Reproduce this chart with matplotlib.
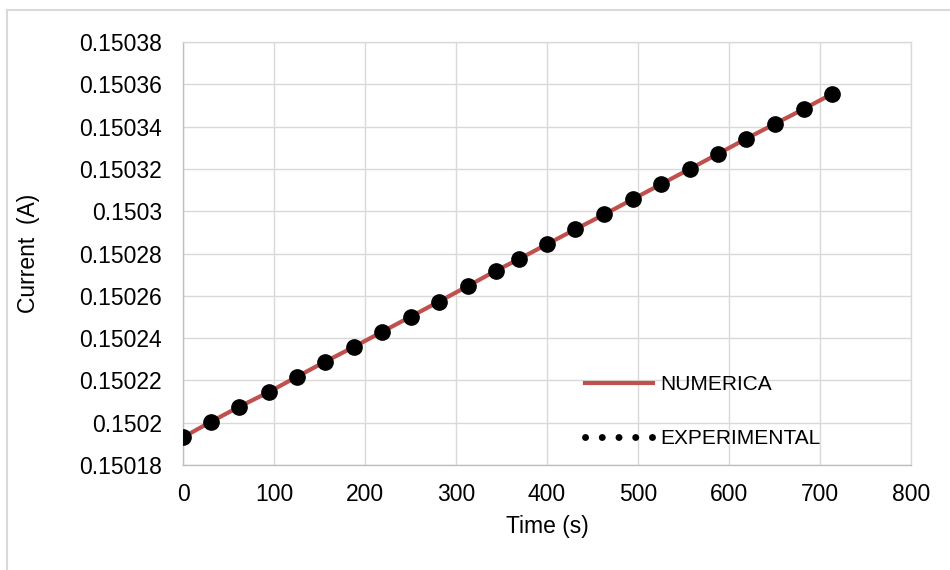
import numpy as np
import matplotlib
matplotlib.use("Agg")
import matplotlib.pyplot as plt
from matplotlib.lines import Line2D
from matplotlib.ticker import FuncFormatter

# data
time_s = [0, 31, 62, 94, 125, 156, 188, 219, 250, 281, 313, 344,
          369, 400, 431, 463, 494, 525, 557, 588, 619, 650, 682, 713]
current_exp = [0.1501931, 0.1502005, 0.1502076, 0.1502144, 0.1502217, 0.1502288,
               0.1502359, 0.1502430, 0.1502501, 0.1502572, 0.1502646, 0.1502719,
               0.1502773, 0.1502844, 0.1502914, 0.1502985, 0.1503056, 0.1503127,
               0.1503200, 0.1503271, 0.1503343, 0.1503412, 0.1503483, 0.1503554]
# numerical model, same sampling
current_num = list(current_exp)

x_ticks = [0, 100, 200, 300, 400, 500, 600, 700, 800]
y_ticks = [0.15018, 0.1502, 0.15022, 0.15024, 0.15026, 0.15028,
           0.1503, 0.15032, 0.15034, 0.15036, 0.15038]

plt.rcParams['font.family'] = ['Liberation Sans', 'DejaVu Sans']

fig = plt.figure(figsize=(9.5, 5.7), dpi=100)
ax = fig.add_axes([183/950, 1-465/570, (911-183)/950, (465-42)/570])

red = '#C0504D'
grid_c = '#D9D9D9'

ax.plot(time_s, current_num, color=red, lw=3, solid_capstyle='round', zorder=2)
ax.plot(time_s, current_exp, 'o', color='black', ms=11, zorder=3)

ax.set_xlim(0, 800)
ax.set_ylim(0.15018, 0.15038)
ax.set_xticks(x_ticks)
ax.set_yticks(y_ticks)
ax.yaxis.set_major_formatter(FuncFormatter(lambda v, p: '{:g}'.format(round(v, 6))))
ax.tick_params(length=0, labelsize=16.5, colors='#000000')
ax.tick_params(axis='y', pad=15)
ax.tick_params(axis='x', pad=13)
ax.grid(True, color=grid_c, lw=1)
ax.set_axisbelow(True)
for s in ax.spines.values():
    s.set_color(grid_c)
    s.set_linewidth(1)
ax.spines['bottom'].set_color('#BFBFBF')
ax.spines['left'].set_color('#BFBFBF')

ax.set_xlabel('Time (s)', fontsize=16.5)
ax.xaxis.set_label_coords(0.5, -0.118)
ax.set_ylabel('Current  (A)', fontsize=16.5)
ax.yaxis.set_label_coords(-0.196, 0.5)

h_num = Line2D([], [], color=red, lw=3)
h_exp = Line2D([], [], color='black', lw=5, linestyle=(0, (0.01, 2.4)),
               dash_capstyle='round')
leg = ax.legend([h_num, h_exp], ['NUMERICA', 'EXPERIMENTAL'],
                loc='upper left', bbox_to_anchor=(0.526, 0.257),
                frameon=False, fontsize=15, handlelength=3.3,
                handletextpad=0.35, labelspacing=1.7)

# outer chart frame (only left and top visible in the crop)
fig.add_artist(Line2D([7/950, 7/950], [0, 1-10/570], color=grid_c, lw=1.5))
fig.add_artist(Line2D([7/950, 1], [1-10/570, 1-10/570], color=grid_c, lw=1.5))

fig.savefig('out.png', dpi=100)
